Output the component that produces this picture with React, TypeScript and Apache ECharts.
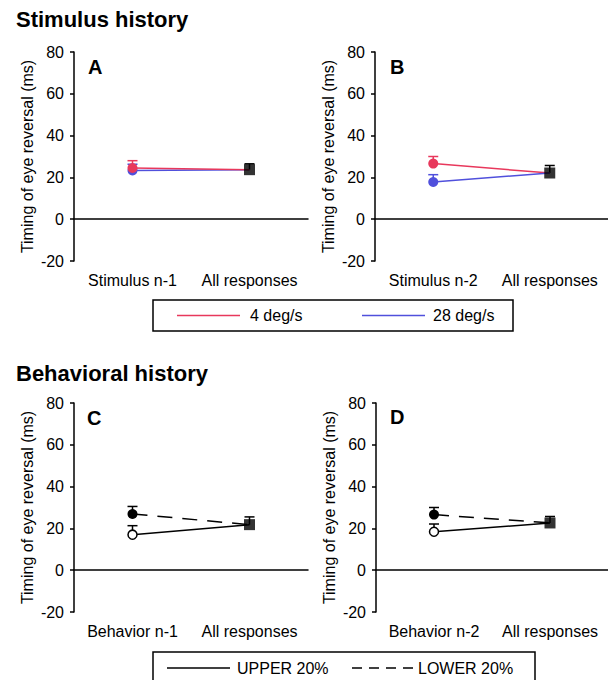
import React, { useEffect, useRef } from "react";
import * as echarts from "echarts";

// ---- Data ----
const catsA = ["Stimulus n-1", "All responses"];
const catsB = ["Stimulus n-2", "All responses"];
const catsC = ["Behavior n-1", "All responses"];
const catsD = ["Behavior n-2", "All responses"];

const yTicks = [-20, 0, 20, 40, 60, 80];

// Panel A (stimulus n-1)
const a4deg = [24.5, 23.7];
const a4degErr = 3.5;
const a28deg = [23.3, 23.7];
const a28degErr = 3.0;
const aAll = 23.7;
const aAllErr = 2.8;

// Panel B (stimulus n-2)
const b4deg = [26.6, 22.1];
const b4degErr = 3.4;
const b28deg = [17.8, 22.1];
const b28degErr = 3.5;
const bAll = 22.1;
const bAllErr = 3.6;

// Panel C (behavior n-1)
const cUpper = [17.0, 21.8];
const cUpperErr = 4.3;
const cLower = [26.9, 21.8];
const cLowerErr = 3.6;
const cAll = 21.8;
const cAllErr = 3.7;

// Panel D (behavior n-2)
const dUpper = [18.4, 22.6];
const dUpperErr = 3.7;
const dLower = [26.6, 22.6];
const dLowerErr = 3.4;
const dAll = 22.6;
const dAllErr = 3.1;

const RED = "#e8385c";
const BLUE = "#5050dc";
const FONT = "Liberation Sans, Arial, Helvetica, sans-serif";

function errSeries(idx: number, data: number[][], color: string) {
  return {
    type: "custom",
    xAxisIndex: idx,
    yAxisIndex: idx,
    z: 1,
    silent: true,
    data,
    encode: { x: 0, y: 1 },
    renderItem: (params: any, api: any) => {
      const x = api.value(0);
      const y = api.value(1);
      const e = api.value(2);
      const p0 = api.coord([x, y]);
      const p1 = api.coord([x, y + e]);
      const hw = 5;
      return {
        type: "group",
        children: [
          { type: "line", shape: { x1: p0[0], y1: p0[1], x2: p1[0], y2: p1[1] }, style: { stroke: color, lineWidth: 1.5 } },
          { type: "line", shape: { x1: p1[0] - hw, y1: p1[1], x2: p1[0] + hw, y2: p1[1] }, style: { stroke: color, lineWidth: 1.5 } },
        ],
      };
    },
  };
}

function lineSeries(idx: number, vals: number[], color: string, opts: any = {}) {
  return {
    type: "line",
    xAxisIndex: idx,
    yAxisIndex: idx,
    z: 2,
    symbol: "circle",
    symbolSize: opts.open ? 9 : 10,
    showSymbol: true,
    data: [
      { value: vals[0] },
      { value: vals[1], symbol: "none" },
    ],
    lineStyle: { color, width: 1.5, type: opts.dash ? [15, 10] : "solid" },
    itemStyle: opts.open
      ? { color: "#fff", borderColor: "#000", borderWidth: 1.5 }
      : { color, borderWidth: 0 },
  };
}

function allSeries(idx: number, v: number) {
  return {
    type: "scatter",
    xAxisIndex: idx,
    yAxisIndex: idx,
    z: 3,
    symbol: "rect",
    symbolSize: 11,
    itemStyle: { color: "#000" },
    data: [[1, v]],
  };
}

export default function App() {
  const ref = useRef<HTMLDivElement>(null);
  useEffect(() => {
    if (!ref.current) return;
    const chart = echarts.init(ref.current, null, { renderer: "svg" });
    const grids = [
      { left: 74, top: 52, width: 234, height: 209 },
      { left: 375, top: 52, width: 233, height: 209 },
      { left: 74, top: 403, width: 234, height: 209 },
      { left: 376, top: 403, width: 232, height: 209 },
    ];
    const catsList = [catsA, catsB, catsC, catsD];
    const xAxis = catsList.map((c, i) => ({
      type: "category",
      gridIndex: i,
      data: c,
      boundaryGap: true,
      axisLine: { lineStyle: { color: "#000", width: 1.5 } },
      axisTick: { alignWithLabel: true, length: 5, lineStyle: { color: "#000", width: 1.5 } },
      axisLabel: { color: "#000", fontSize: 16, fontFamily: FONT, margin: 11, interval: 0 },
    }));
    const yAxis = catsList.map((_, i) => ({
      type: "value",
      gridIndex: i,
      min: yTicks[0],
      max: yTicks[yTicks.length - 1],
      interval: 20,
      name: "Timing of eye reversal (ms)",
      nameLocation: "middle",
      nameRotate: 90,
      nameGap: 39,
      nameTextStyle: { color: "#000", fontSize: 16, fontFamily: FONT },
      axisLine: { show: true, lineStyle: { color: "#000", width: 1.5 } },
      axisTick: { show: true, length: 4, lineStyle: { color: "#000", width: 1.5 } },
      axisLabel: { color: "#000", fontSize: 16, fontFamily: FONT, margin: 10 },
      splitLine: { show: false },
    }));

    const series: any[] = [
      errSeries(0, [[0, a4deg[0], a4degErr]], RED),
      errSeries(0, [[0, a28deg[0], a28degErr]], BLUE),
      errSeries(0, [[1, aAll, aAllErr]], "#000"),
      lineSeries(0, a28deg, BLUE),
      lineSeries(0, a4deg, RED),
      allSeries(0, aAll),

      errSeries(1, [[0, b4deg[0], b4degErr]], RED),
      errSeries(1, [[0, b28deg[0], b28degErr]], BLUE),
      errSeries(1, [[1, bAll, bAllErr]], "#000"),
      lineSeries(1, b4deg, RED),
      lineSeries(1, b28deg, BLUE),
      allSeries(1, bAll),

      errSeries(2, [[0, cLower[0], cLowerErr]], "#000"),
      errSeries(2, [[0, cUpper[0], cUpperErr]], "#000"),
      errSeries(2, [[1, cAll, cAllErr]], "#000"),
      lineSeries(2, cLower, "#000", { dash: true }),
      lineSeries(2, cUpper, "#000", { open: true }),
      allSeries(2, cAll),

      errSeries(3, [[0, dLower[0], dLowerErr]], "#000"),
      errSeries(3, [[0, dUpper[0], dUpperErr]], "#000"),
      errSeries(3, [[1, dAll, dAllErr]], "#000"),
      lineSeries(3, dLower, "#000", { dash: true }),
      lineSeries(3, dUpper, "#000", { open: true }),
      allSeries(3, dAll),
    ];

    const txt = (x: number, y: number, text: string, size: number, bold = false, va = "top") => ({
      type: "text",
      x,
      y,
      style: { text, fill: "#000", fontSize: size, fontWeight: bold ? "bold" : "normal", fontFamily: FONT, verticalAlign: va },
    });
    const ln = (x1: number, x2: number, y: number, color: string, dash?: number[]) => ({
      type: "line",
      shape: { x1, y1: y, x2, y2: y },
      style: { stroke: color, lineWidth: 1.5, lineDash: dash },
    });

    const graphic = [
      txt(16, 8, "Stimulus history", 22, true),
      txt(16, 362, "Behavioral history", 22, true),
      txt(88, 57, "A", 20, true),
      txt(390, 57, "B", 20, true),
      txt(87, 408, "C", 20, true),
      txt(390, 407, "D", 20, true),
      { type: "rect", shape: { x: 153, y: 300, width: 360, height: 31 }, style: { fill: "#fff", stroke: "#000", lineWidth: 1.5 } },
      ln(177, 240, 315.5, RED),
      txt(250, 315.5, "4 deg/s", 16, false, "middle"),
      ln(362, 425, 315.5, BLUE),
      txt(433, 315.5, "28 deg/s", 16, false, "middle"),
      { type: "rect", shape: { x: 153, y: 652, width: 382, height: 40 }, style: { fill: "#fff", stroke: "#000", lineWidth: 1.5 } },
      ln(167, 230, 668, "#000"),
      txt(237, 668, "UPPER 20%", 16, false, "middle"),
      ln(352, 413, 668, "#000", [10, 7]),
      txt(418, 668, "LOWER 20%", 16, false, "middle"),
    ];

    chart.setOption({
      animation: false,
      backgroundColor: "#fff",
      grid: grids,
      xAxis,
      yAxis,
      series,
      graphic,
    });
    return () => chart.dispose();
  }, []);
  return (
    <div
      ref={ref}
      style={{ position: "absolute", left: 0, top: 0, width: 608, height: 680 }}
    />
  );
}
